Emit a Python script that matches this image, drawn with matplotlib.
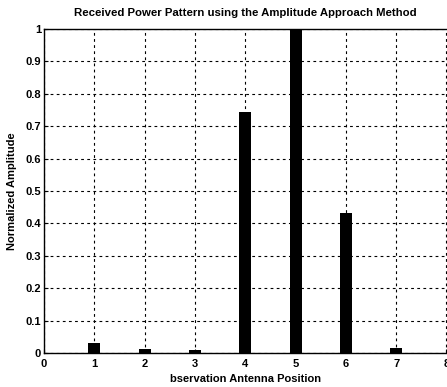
import matplotlib
matplotlib.use('Agg')
import matplotlib.pyplot as plt

positions = [1, 2, 3, 4, 5, 6, 7]
amplitude = [0.03, 0.012, 0.01, 0.744, 1.0, 0.432, 0.015]
xticks = [0, 1, 2, 3, 4, 5, 6, 7, 8]
yticks = [0, 0.1, 0.2, 0.3, 0.4, 0.5, 0.6, 0.7, 0.8, 0.9, 1]
ytick_labels = ['0', '0.1', '0.2', '0.3', '0.4', '0.5', '0.6', '0.7', '0.8', '0.9', '1']

plt.rcParams['font.family'] = ['Liberation Sans', 'DejaVu Sans']

fig = plt.figure(figsize=(4.47, 3.87), dpi=100)
ax = fig.add_axes([44 / 447, 1 - 353 / 387, 403 / 447, 324 / 387])

ax.bar(positions, amplitude, width=0.24, color='black', zorder=3)
ax.set_xlim(0, 8.01)
ax.set_ylim(0, 1)
ax.set_xticks(xticks)
ax.set_xticklabels([str(t) for t in xticks], fontsize=8, fontweight='bold')
ax.set_yticks(yticks)
ax.set_yticklabels(ytick_labels, fontsize=8, fontweight='bold')
ax.tick_params(direction='in', length=3, width=0.8, pad=2)
ax.tick_params(axis='x', pad=4)
ax.grid(True, color='black', linestyle=(0, (2.5, 3)), linewidth=0.8)
ax.set_axisbelow(True)
for s in ['left', 'top', 'bottom']:
    ax.spines[s].set_linewidth(1.0)
ax.spines['right'].set_visible(False)

ax.set_title('Received Power Pattern using the Amplitude Approach Method',
             fontsize=8.2, fontweight='bold', pad=9)
ax.set_xlabel('bservation Antenna Position', fontsize=8, fontweight='bold', labelpad=4)
ax.set_ylabel('Normalized Amplitude', fontsize=8, fontweight='bold', labelpad=6)

fig.savefig('out.png', dpi=100)
